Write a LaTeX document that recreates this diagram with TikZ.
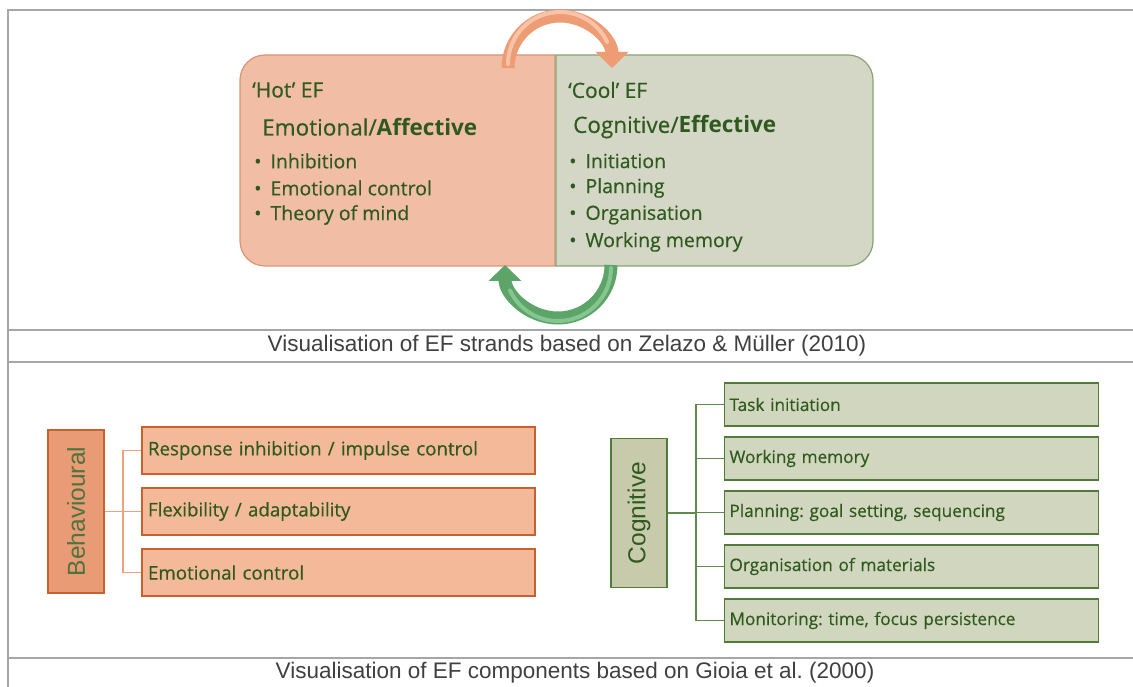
\documentclass[tikz,border=0pt]{standalone}
\usepackage{fontspec}
\setmainfont{Open Sans}[FakeBold=0.45, BoldFont={Open Sans Bold}, BoldFeatures={FakeBold=0}]
\newfontfamily\capfont{Liberation Sans}
\usetikzlibrary{arrows.meta}
\frenchspacing

\definecolor{framegray}{HTML}{A6A6A6}
\definecolor{captext}{HTML}{404040}
\definecolor{efgreen}{HTML}{2F5A1E}
\definecolor{hotfill}{HTML}{F1BEA5}
\definecolor{hotline}{HTML}{D99474}
\definecolor{coolfill}{HTML}{D4D6C6}
\definecolor{coolline}{HTML}{86A472}
\definecolor{ofill}{HTML}{F4B999}
\definecolor{oline}{HTML}{C8612F}
\definecolor{behfill}{HTML}{E89B75}
\definecolor{olink}{HTML}{EFA07C}
\definecolor{gfill}{HTML}{D1D6BE}
\definecolor{gline}{HTML}{527A3B}
\definecolor{cogfill}{HTML}{C7CBAC}
\definecolor{glink}{HTML}{5F8A4C}
\definecolor{arrorange}{HTML}{EE9C74}
\definecolor{arrorangehi}{HTML}{F8C3A6}
\definecolor{arrgreen}{HTML}{5CA468}
\definecolor{arrgreenhi}{HTML}{86C490}

\tikzset{
  frameline/.style={draw=framegray, line width=1.4pt},
  caption/.style={font=\capfont\fontsize{22.5}{26}\selectfont, text=captext, inner sep=0pt},
  eftitle/.style={anchor=west, inner sep=0pt, text=efgreen, font=\fontsize{21}{24}\selectfont},
  efsub/.style={anchor=west, inner sep=0pt, text=efgreen, font=\fontsize{22.5}{26}\selectfont},
  efitem/.style={anchor=west, inner sep=0pt, text=efgreen, font=\fontsize{19.5}{22}\selectfont},
  obox/.style={draw=oline, fill=ofill, line width=1.3pt, minimum height=47pt,
    text width=381pt, inner xsep=6pt, align=left, text=efgreen,
    font=\fontsize{18.7}{22}\selectfont},
  gbox/.style={draw=gline, fill=gfill, line width=1.3pt, minimum height=43pt,
    text width=364pt, inner xsep=5pt, align=left, text=efgreen,
    font=\fontsize{17.2}{20}\selectfont},
  behbox/.style={draw=oline, fill=behfill, line width=1.3pt, minimum width=56pt, minimum height=163pt},
  cogbox/.style={draw=gline, fill=cogfill, line width=1.3pt, minimum width=56pt, minimum height=149pt},
  sidelabel/.style={rotate=90, font=\capfont\fontsize{24.5}{28}\selectfont, inner sep=0pt},
  olinkline/.style={draw=olink, line width=1.3pt},
  glinkline/.style={draw=glink, line width=1.3pt},
}

\begin{document}
\begin{tikzpicture}[x=1pt, y=-1pt]
\useasboundingbox (0,0) rectangle (1133,687);
\fill[white] (0,0) rectangle (1133,687);

% ---- frame and separators
\draw[frameline] (1133,10) -- (8,10) -- (8,687);
\draw[frameline] (8,330) -- (1133,330);
\draw[frameline] (8,362) -- (1133,362);
\draw[frameline] (8,658) -- (1133,658);

% ---- hot / cool panels
\draw[fill=hotfill, draw=hotline, line width=1.2pt]
  (555,55) -- (265,55) arc[start angle=270, end angle=180, radius=25]
  -- (240,241) arc[start angle=180, end angle=90, radius=25]
  -- (555,266) -- cycle;
\draw[fill=coolfill, draw=coolline, line width=1.2pt]
  (556,55) -- (848,55) arc[start angle=270, end angle=360, radius=25]
  -- (873,241) arc[start angle=0, end angle=90, radius=25]
  -- (556,266) -- cycle;

\node[eftitle] (hot) at (252,90) {‘Hot’ EF};
\node[efsub] (hotsub) at (262,127) {Emotional/\textbf{Affective}};
\node[efitem] (h1) at (254,161) {•\hspace{9pt}Inhibition};
\node[efitem] (h2) at (254,188) {•\hspace{9pt}Emotional control};
\node[efitem] (h3) at (254,215) {•\hspace{9pt}Theory of mind};

\node[eftitle] (cool) at (568,90) {‘Cool’ EF};
\node[efsub] (coolsub) at (573,127) {Cognitive/\textbf{Effective}};
\node[efitem] (c1) at (569,161) {•\hspace{9pt}Initiation};
\node[efitem] (c2) at (569,188) {•\hspace{9pt}Planning};
\node[efitem] (c3) at (569,215) {•\hspace{9pt}Organisation};
\node[efitem] (c4) at (569,242) {•\hspace{9pt}Working memory};

% ---- cycling arrows between the two strands
\draw[line width=13pt, arrorange, -{Triangle[width=32pt,length=16pt]}]
  (508,68) arc[start angle=180, end angle=360, radius=52];
\draw[line width=4pt, arrorangehi, line cap=round]
  (508,64) arc[start angle=180, end angle=335, radius=52];
\draw[line width=13pt, arrgreen, -{Triangle[width=32pt,length=16pt]}]
  (611,265) arc[start angle=0, end angle=180, radius=53];
\draw[line width=4pt, arrgreenhi, line cap=round]
  (611,268) arc[start angle=0, end angle=155, radius=53];

\node[caption] (cap1) at (567,346) {Visualisation of EF strands based on Zelazo \& Müller (2010)};

% ---- behavioural components
\node[behbox] (beh) at (76,511.5) {};
\node[sidelabel, text=efgreen!85!white] (behlbl) at (beh.center) {Behavioural};
\node[obox] (r1) at (338.5,450.5) {Response inhibition / impulse control};
\node[obox] (r2) at (338.5,511.5) {Flexibility / adaptability};
\node[obox] (r3) at (338.5,572.5) {Emotional control};
\coordinate (bspine) at (123,511.5);
\draw[olinkline] (beh.east) -- (bspine);
\draw[olinkline] (bspine) |- (r1.west);
\draw[olinkline] (bspine) |- (r2.west);
\draw[olinkline] (bspine) |- (r3.west);

% ---- cognitive components
\node[cogbox] (cog) at (639,513) {};
\node[sidelabel, text=efgreen] (coglbl) at (cog.center) {Cognitive};
\node[gbox] (g1) at (911.5,404.5) {Task initiation};
\node[gbox] (g2) at (911.5,458.5) {Working memory};
\node[gbox] (g3) at (911.5,512.5) {Planning: goal setting, sequencing};
\node[gbox] (g4) at (911.5,566.5) {Organisation of materials};
\node[gbox] (g5) at (911.5,620.5) {Monitoring: time, focus persistence};
\coordinate (gspine) at (696,513);
\draw[glinkline] (cog.east) -- (gspine);
\foreach \g in {g1,g2,g3,g4,g5}
  \draw[glinkline] (gspine) |- (\g.west);

\node[caption] (cap2) at (575,673) {Visualisation of EF components based on Gioia et al. (2000)};
\end{tikzpicture}
\end{document}
